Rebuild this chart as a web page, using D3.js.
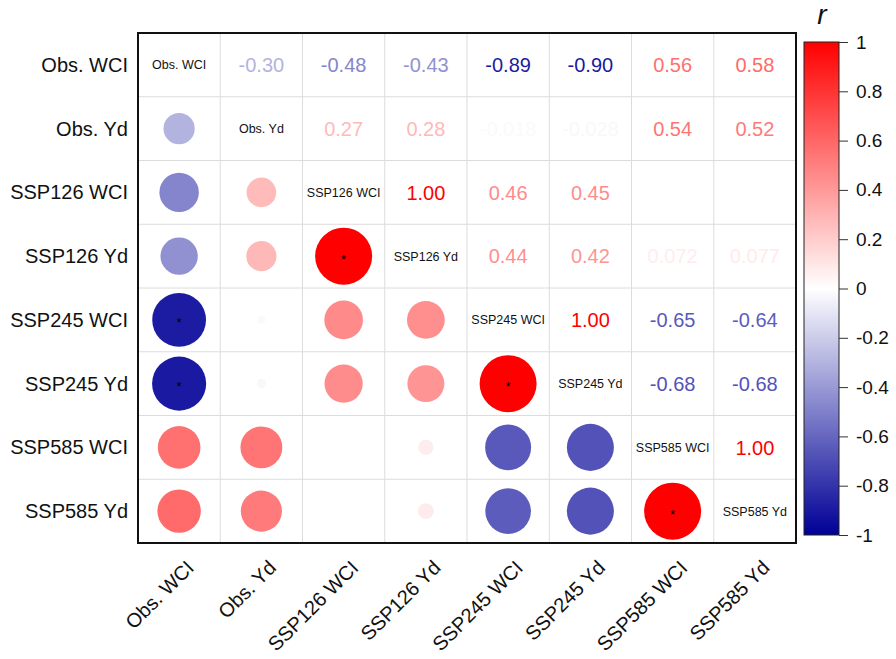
<!DOCTYPE html>
<html>
<head>
<meta charset="utf-8">
<script src="https://cdn.jsdelivr.net/npm/d3@7"></script>
<style>
  html, body { margin: 0; padding: 0; background: #fff; }
  svg { display: block; font-family: "Liberation Sans", Arial, sans-serif; }
</style>
</head>
<body>
<svg id="chart" width="896" height="659"></svg>
<script>
// ---------------- data ----------------
const variables = ["Obs. WCI", "Obs. Yd", "SSP126 WCI", "SSP126 Yd",
                   "SSP245 WCI", "SSP245 Yd", "SSP585 WCI", "SSP585 Yd"];

// correlation matrix (null = not available)
const rObsWCI    = [1.00, -0.30, -0.48, -0.43, -0.89, -0.90, 0.56, 0.58];
const rObsYd     = [-0.30, 1.00, 0.27, 0.28, -0.018, -0.028, 0.54, 0.52];
const rSSP126WCI = [-0.48, 0.27, 1.00, 1.00, 0.46, 0.45, null, null];
const rSSP126Yd  = [-0.43, 0.28, 1.00, 1.00, 0.44, 0.42, 0.072, 0.077];
const rSSP245WCI = [-0.89, -0.018, 0.46, 0.44, 1.00, 1.00, -0.65, -0.64];
const rSSP245Yd  = [-0.90, -0.028, 0.45, 0.42, 1.00, 1.00, -0.68, -0.68];
const rSSP585WCI = [0.56, 0.54, null, 0.072, -0.65, -0.68, 1.00, 1.00];
const rSSP585Yd  = [0.58, 0.52, null, 0.077, -0.64, -0.68, 1.00, 1.00];
const matrix = [rObsWCI, rObsYd, rSSP126WCI, rSSP126Yd, rSSP245WCI, rSSP245Yd, rSSP585WCI, rSSP585Yd];

const colorTicks = [1, 0.8, 0.6, 0.4, 0.2, 0, -0.2, -0.4, -0.6, -0.8, -1];
const starThreshold = 0.8;

// ---------------- layout ----------------
const svg = d3.select("#chart");
const plot = { x0: 138, x1: 796, y0: 33, y1: 543 };
const bar = { x0: 804, x1: 839, y0: 42, y1: 535 };

const x = d3.scaleBand().domain(variables).range([plot.x0, plot.x1]);
const y = d3.scaleBand().domain(variables).range([plot.y0, plot.y1]);
const color = d3.scaleLinear().domain([-1, 0, 1]).range(["#000096", "#ffffff", "#ff0000"]);
const radius = d3.scaleSqrt().domain([0, 1]).range([0, 28.5]);

const fmt = v => {
  const a = Math.abs(v);
  let s = a < 0.1 ? a.toPrecision(2).replace(/^0+(?=\.)/, "0") : a.toFixed(2);
  return (v < 0 ? "-" : "") + s;
};

// grid lines
const grid = svg.append("g");
variables.slice(1).forEach(v => {
  grid.append("line").attr("x1", x(v)).attr("x2", x(v))
    .attr("y1", plot.y0).attr("y2", plot.y1)
    .attr("stroke", "#dcdcdc").attr("stroke-width", 1);
  grid.append("line").attr("x1", plot.x0).attr("x2", plot.x1)
    .attr("y1", y(v)).attr("y2", y(v))
    .attr("stroke", "#dcdcdc").attr("stroke-width", 1);
});

// cells
const cells = [];
matrix.forEach((row, i) => row.forEach((v, j) => cells.push({ i, j, v })));

const g = svg.append("g");
cells.forEach(c => {
  const cx = x(variables[c.j]) + x.bandwidth() / 2;
  const cy = y(variables[c.i]) + y.bandwidth() / 2;
  if (c.i === c.j) {
    g.append("text").attr("x", cx).attr("y", cy).attr("dy", "0.35em")
      .attr("text-anchor", "middle").attr("font-size", 12.5).attr("fill", "#111")
      .text(variables[c.i]);
  } else if (c.v === null) {
    return;
  } else if (c.j > c.i) {
    g.append("text").attr("x", cx).attr("y", cy).attr("dy", "0.36em")
      .attr("text-anchor", "middle").attr("font-size", 20).attr("fill", color(c.v))
      .text(fmt(c.v));
  } else {
    g.append("circle").attr("cx", cx).attr("cy", cy).attr("r", radius(Math.abs(c.v)))
      .attr("fill", color(c.v));
    if (Math.abs(c.v) >= starThreshold) {
      g.append("text").attr("x", cx).attr("y", cy + 0.57 * 13)
        .attr("text-anchor", "middle").attr("font-size", 13).attr("fill", "#000")
        .text("*");
    }
  }
});

// border
svg.append("rect").attr("x", plot.x0).attr("y", plot.y0)
  .attr("width", plot.x1 - plot.x0).attr("height", plot.y1 - plot.y0)
  .attr("fill", "none").attr("stroke", "#111").attr("stroke-width", 2);

// row labels
svg.append("g").selectAll("text").data(variables).join("text")
  .attr("x", 128).attr("y", d => y(d) + y.bandwidth() / 2).attr("dy", "0.35em")
  .attr("text-anchor", "end").attr("font-size", 20).attr("fill", "#111")
  .text(d => d);

// column labels
svg.append("g").selectAll("text").data(variables).join("text")
  .attr("transform", d => `translate(${x(d) + x.bandwidth() / 2 + 16},${569}) rotate(-45)`)
  .attr("text-anchor", "end").attr("font-size", 20).attr("fill", "#111")
  .text(d => d);

// colorbar
const defs = svg.append("defs");
const grad = defs.append("linearGradient").attr("id", "cbar")
  .attr("x1", 0).attr("y1", 0).attr("x2", 0).attr("y2", 1);
d3.range(0, 1.0001, 0.05).forEach(t => {
  grad.append("stop").attr("offset", t).attr("stop-color", color(1 - 2 * t));
});
svg.append("rect").attr("x", bar.x0).attr("y", bar.y0)
  .attr("width", bar.x1 - bar.x0).attr("height", bar.y1 - bar.y0)
  .attr("fill", "url(#cbar)").attr("stroke", "#222").attr("stroke-width", 1);

const cScale = d3.scaleLinear().domain([-1, 1]).range([bar.y1, bar.y0]);
const cAxis = svg.append("g").attr("transform", `translate(${bar.x1},0)`)
  .call(d3.axisRight(cScale).tickValues(colorTicks).tickSize(9).tickPadding(8)
    .tickFormat(d => (d < 0 ? "-" : "") + String(Math.abs(d))));
cAxis.select(".domain").remove();
cAxis.selectAll(".tick line").attr("stroke", "#333");
cAxis.selectAll(".tick text").attr("font-size", 19).attr("fill", "#111")
  .attr("font-family", "Liberation Sans, Arial, sans-serif");

svg.append("text").attr("x", 822).attr("y", 24).attr("text-anchor", "middle")
  .attr("font-size", 28).attr("font-style", "italic").attr("fill", "#111").text("r");
</script>
</body>
</html>
